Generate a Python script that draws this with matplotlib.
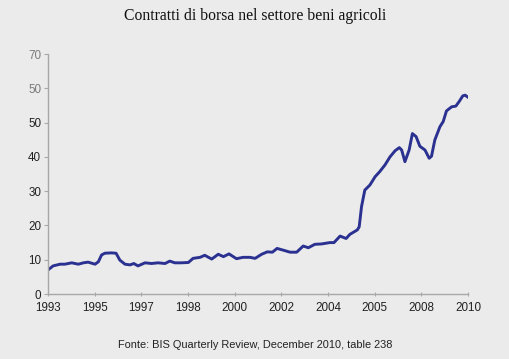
import matplotlib
matplotlib.use('Agg')
import matplotlib.pyplot as plt

# asse categoriale: posizione 0 = 1993 ... 9 = 2010 (etichette come nel grafico originale)
x_labels = ['1993', '1995', '1997', '1998', '2000', '2002', '2004', '2005', '2008', '2010']
y_ticks = [0, 10, 20, 30, 40, 50, 60, 70]
y_labels = ['0', '10', '20', '30', '40', '50', '50', '70']

# posizioni lungo l'asse (in unità di etichetta) e valori
pos = [0.00, 0.11, 0.26, 0.36, 0.51, 0.65, 0.76, 0.86, 1.01, 1.08, 1.15, 1.22, 1.36, 1.46,
       1.54, 1.65, 1.76, 1.84, 1.93, 2.08, 2.22, 2.36, 2.51, 2.61, 2.72, 2.86, 3.01, 3.11,
       3.26, 3.36, 3.51, 3.65, 3.76, 3.88, 4.04, 4.18, 4.33, 4.44, 4.58, 4.70, 4.81, 4.91,
       5.04, 5.19, 5.33, 5.47, 5.58, 5.72, 5.86, 6.04, 6.13, 6.26, 6.39, 6.47, 6.63, 6.67,
       6.72, 6.79, 6.90, 7.01, 7.11, 7.22, 7.33, 7.44, 7.53, 7.58, 7.65, 7.74, 7.81, 7.89,
       7.97, 8.08, 8.17, 8.22, 8.29, 8.40, 8.47, 8.54, 8.65, 8.74, 8.81, 8.89, 8.94, 9.01]
contratti = [7.0, 8.2, 8.7, 8.7, 9.1, 8.7, 9.1, 9.3, 8.7, 9.4, 11.4, 11.9, 12.0, 11.9,
             9.9, 8.7, 8.5, 8.9, 8.2, 9.1, 8.9, 9.1, 8.9, 9.6, 9.1, 9.1, 9.2, 10.4,
             10.7, 11.3, 10.2, 11.6, 10.9, 11.7, 10.3, 10.7, 10.7, 10.4, 11.6, 12.3, 12.2, 13.3,
             12.8, 12.2, 12.2, 14.0, 13.5, 14.5, 14.6, 15.0, 15.0, 16.9, 16.2, 17.4, 18.7, 19.6,
             25.5, 30.3, 31.8, 34.2, 35.7, 37.6, 40.0, 41.8, 42.7, 42.0, 38.6, 42.0, 46.8, 45.9,
             43.1, 42.0, 39.6, 40.2, 44.9, 48.8, 50.3, 53.4, 54.6, 54.8, 56.1, 57.8, 58.0, 57.3]

bg = '#ebebeb'
fig = plt.figure(figsize=(5.10, 3.59), dpi=100, facecolor=bg)
ax = fig.add_axes([0.094, 0.181, 0.8235, 0.6685], facecolor=bg)

ax.plot(pos, contratti, color='#2b3190', linewidth=2.1, solid_joinstyle='round',
        solid_capstyle='round')

ax.set_xlim(0, 9)
ax.set_ylim(0, 70)
ax.set_xticks(range(len(x_labels)))
ax.set_xticklabels(x_labels, family='Liberation Sans', fontsize=8.4, color='#222222')
ax.set_yticks(y_ticks)
ax.set_yticklabels(y_labels, family='Liberation Sans', fontsize=8.4, color='#222222')
for lab in ax.get_yticklabels()[-2:]:
    lab.set_color('#7a7a7a')

for s in ['top', 'right']:
    ax.spines[s].set_visible(False)
for s in ['left', 'bottom']:
    ax.spines[s].set_color('#a8a8a8')
    ax.spines[s].set_linewidth(1.0)
ax.tick_params(axis='y', length=3, width=0.8, color='#a8a8a8', pad=2)
ax.tick_params(axis='x', length=3, width=0.8, color='#a8a8a8', pad=4, direction='inout')

fig.text(0.5, 0.955, 'Contratti di borsa nel settore beni agricoli', ha='center', va='center',
         family='Liberation Serif', fontsize=11.3, color='#111111')
fig.text(0.5, 0.038, 'Fonte: BIS Quarterly Review, December 2010, table 238', ha='center',
         va='center', family='Liberation Sans', fontsize=7.9, color='#222222')

plt.savefig('out.png', dpi=100, facecolor=bg)
